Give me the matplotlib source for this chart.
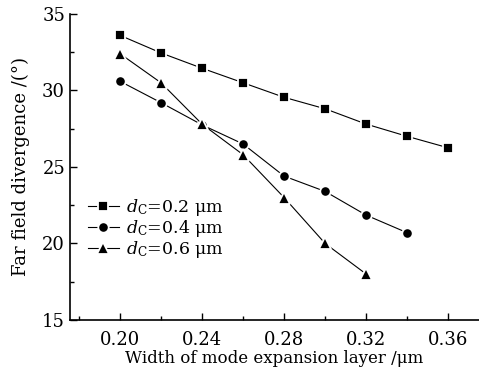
import matplotlib
matplotlib.use("Agg")
import matplotlib.pyplot as plt

plt.rcParams["font.family"] = "DejaVu Serif"
plt.rcParams["mathtext.fontset"] = "dejavuserif"

width = [0.20, 0.22, 0.24, 0.26, 0.28, 0.30, 0.32, 0.34, 0.36]
div_02 = [33.6, 32.45, 31.45, 30.5, 29.55, 28.8, 27.8, 27.0, 26.25]
div_04 = [30.6, 29.2, 27.75, 26.5, 24.4, 23.4, 21.85, 20.7]
div_06 = [32.4, 30.5, 27.8, 25.8, 23.0, 20.0, 18.0]
labels = [r"$d_\mathrm{C}$=0.2 μm", r"$d_\mathrm{C}$=0.4 μm", r"$d_\mathrm{C}$=0.6 μm"]

fig = plt.figure(figsize=(4.79, 3.76), dpi=100)
ax = fig.add_axes([0.146, 0.149, 0.854, 0.814])

style = dict(color="black", lw=0.8, mec="white", mew=1.3)
ax.plot(width[:len(div_02)], div_02, marker="s", ms=7, label=labels[0], **style)
ax.plot(width[:len(div_04)], div_04, marker="o", ms=7.5, label=labels[1], **style)
ax.plot(width[:len(div_06)], div_06, marker="^", ms=8, label=labels[2], **style)

ax.set_xlim(0.1756, 0.375)
ax.set_ylim(15, 35)
ax.set_xticks([0.20, 0.24, 0.28, 0.32, 0.36])
ax.set_xticks([0.18, 0.22, 0.26, 0.30, 0.34], minor=True)
ax.set_yticks([15, 20, 25, 30, 35])
ax.set_yticks([17.5, 22.5, 27.5, 32.5], minor=True)
ax.set_xticklabels(["0.20", "0.24", "0.28", "0.32", "0.36"])
ax.tick_params(which="both", direction="in", labelsize=13, width=1)
ax.tick_params(which="major", length=5)
ax.tick_params(which="minor", length=3)
ax.tick_params(axis="x", which="major", pad=8)
for s in ["top", "right"]:
    ax.spines[s].set_visible(False)
for s in ["left", "bottom"]:
    ax.spines[s].set_linewidth(1.2)

ax.set_xlabel("Width of mode expansion layer /μm", fontsize=12, labelpad=1)
ax.set_ylabel("Far field divergence /(°)", fontsize=13, labelpad=9)

ax.legend(loc="upper left", bbox_to_anchor=(0.018, 0.435), frameon=False,
          fontsize=12.5, handlelength=1.8, handletextpad=0.4,
          labelspacing=0.0, borderaxespad=0.2)

fig.savefig("out.png", dpi=100)
